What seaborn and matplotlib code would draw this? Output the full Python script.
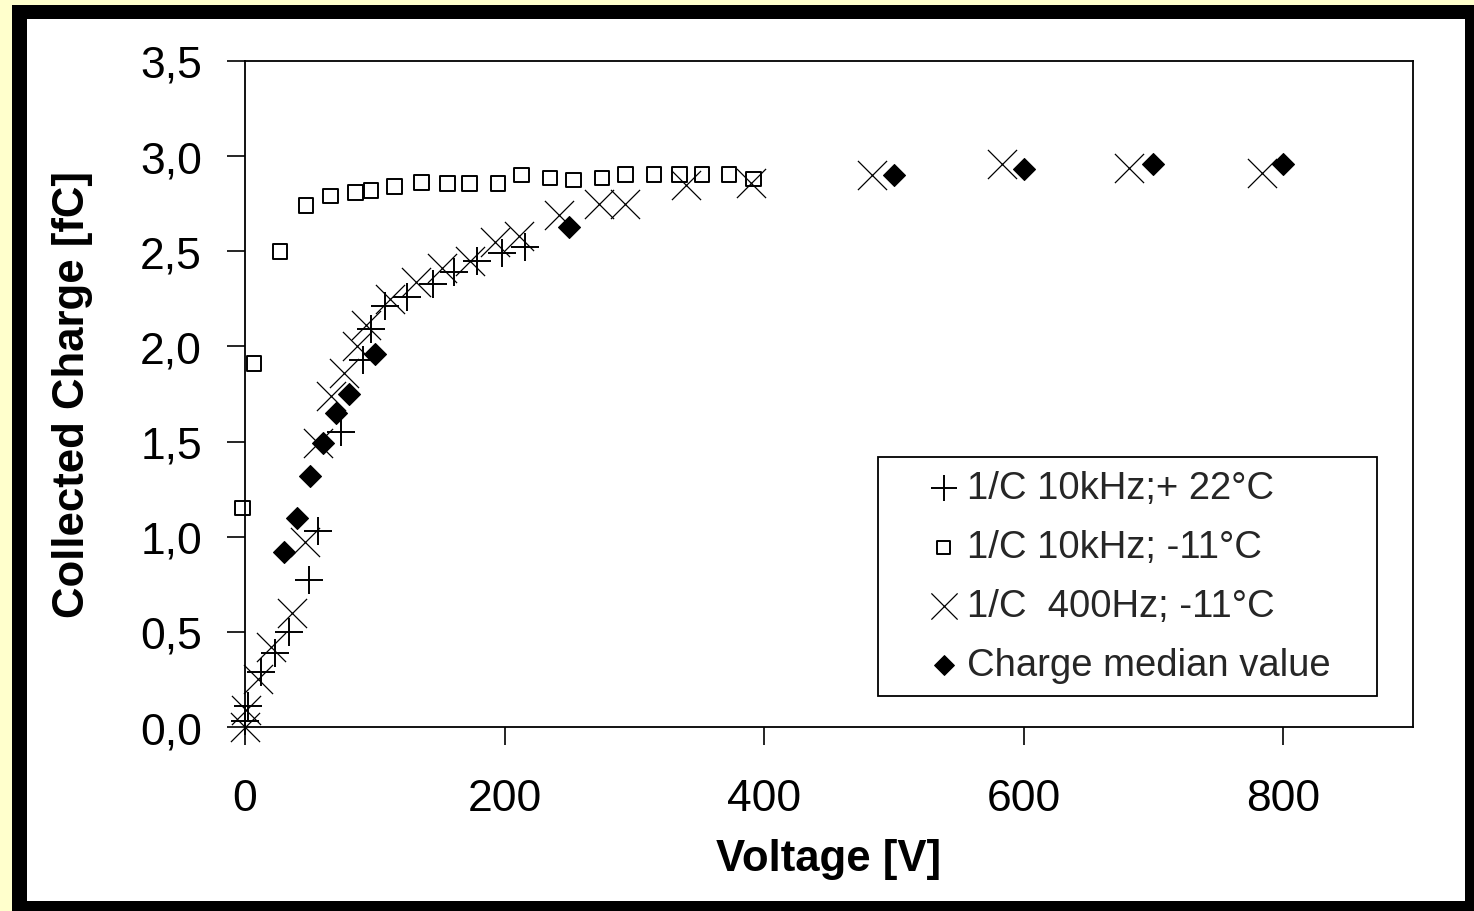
import matplotlib
matplotlib.use("Agg")
import matplotlib.pyplot as plt
from matplotlib.patches import Rectangle
import seaborn as sns
import pandas as pd

# ---- data ----
plus_x = [0, 2, 12, 23, 34, 49, 56, 74, 91, 97, 108, 125, 145, 161, 179, 198, 216]
plus_y = [0.03, 0.11, 0.29, 0.39, 0.50, 0.77, 1.03, 1.55, 1.93, 2.09, 2.21, 2.26, 2.33, 2.39, 2.45, 2.49, 2.52]

sq_x = [-2, 7, 27, 47, 66, 85, 97, 115, 136, 156, 173, 195, 213, 235, 253, 275, 293, 315, 335, 352, 373, 392]
sq_y = [1.15, 1.91, 2.50, 2.74, 2.79, 2.81, 2.82, 2.84, 2.86, 2.855, 2.855, 2.855, 2.90, 2.885, 2.875,
        2.885, 2.905, 2.905, 2.905, 2.905, 2.905, 2.88]

cross_x = [0, 1, 10, 20, 36, 46, 56, 66, 76, 86, 93, 112, 132, 152, 173, 193, 211, 242, 273, 293,
           340, 390, 483, 583, 681, 784]
cross_y = [0.00, 0.09, 0.25, 0.42, 0.60, 0.97, 1.49, 1.74, 1.86, 2.00, 2.11, 2.25, 2.34, 2.41, 2.45,
           2.55, 2.58, 2.69, 2.75, 2.75, 2.85, 2.86, 2.90, 2.96, 2.94, 2.91]

med_x = [30, 40, 50, 60, 70, 80, 100, 250, 500, 600, 700, 800]
med_y = [0.92, 1.10, 1.32, 1.49, 1.65, 1.75, 1.96, 2.63, 2.90, 2.93, 2.96, 2.96]

series_labels = ["1/C 10kHz;+ 22°C", "1/C 10kHz; -11°C", "1/C  400Hz; -11°C", "Charge median value"]

x_ticks = [0, 200, 400, 600, 800]
x_tick_labels = ["0", "200", "400", "600", "800"]
y_ticks = [0.0, 0.5, 1.0, 1.5, 2.0, 2.5, 3.0, 3.5]
y_tick_labels = ["0,0", "0,5", "1,0", "1,5", "2,0", "2,5", "3,0", "3,5"]

x_label = "Voltage [V]"
y_label = "Collected Charge [fC]"

# ---- style ----
sns.set_style("white")
plt.rcParams["font.family"] = ["Liberation Sans", "DejaVu Sans"]

W, H = 1474, 912
fig = plt.figure(figsize=(W / 100, H / 100), dpi=100, facecolor="#FFFFCC")

# black frame and white panel (pixel geometry of the reference), behind the axes
fig.patches.append(Rectangle((12 / W, 0), (W - 12) / W, (H - 6) / H,
                             transform=fig.transFigure, facecolor="black", edgecolor="none", zorder=-10))
fig.patches.append(Rectangle((27 / W, 10 / H), (1465 - 27) / W, (902 - 20) / H,
                             transform=fig.transFigure, facecolor="white", edgecolor="none", zorder=-9))

ax = fig.add_axes([245 / W, 1 - 728 / H, (1413 - 245) / W, (728 - 62) / H])
ax.set_facecolor("white")

df_plus = pd.DataFrame({"V": plus_x, "Q": plus_y})
df_sq = pd.DataFrame({"V": sq_x, "Q": sq_y})
df_cross = pd.DataFrame({"V": cross_x, "Q": cross_y})
df_med = pd.DataFrame({"V": med_x, "Q": med_y})

sns.scatterplot(data=df_plus, x="V", y="Q", ax=ax, marker="+", s=420, color="black",
                linewidth=1.4, label=series_labels[0], clip_on=False, zorder=3)
sns.scatterplot(data=df_sq, x="V", y="Q", ax=ax, marker="s", s=110, facecolor="none",
                edgecolor="black", color="black", linewidth=1.4, label=series_labels[1],
                clip_on=False, zorder=3)
sns.scatterplot(data=df_cross, x="V", y="Q", ax=ax, marker="x", s=440, color="black",
                linewidth=0.9, label=series_labels[2], clip_on=False, zorder=3)
sns.scatterplot(data=df_med, x="V", y="Q", ax=ax, marker="D", s=125, color="black",
                edgecolor="black", linewidth=0.8, label=series_labels[3], clip_on=False, zorder=4)

ax.set_xlim(0, 900)
ax.set_ylim(0, 3.5)
ax.set_xticks(x_ticks)
ax.set_xticklabels(x_tick_labels)
ax.set_yticks(y_ticks)
ax.set_yticklabels(y_tick_labels)

ax.tick_params(axis="both", which="major", direction="out", length=13, width=1.2,
               color="black", labelsize=32, labelcolor="black", left=True, bottom=True)
ax.tick_params(axis="x", pad=24)
ax.tick_params(axis="y", pad=18)

for sp in ax.spines.values():
    sp.set_visible(True)
    sp.set_color("black")
    sp.set_linewidth(1.3)

ax.set_xlabel(x_label, fontsize=31.5, fontweight="bold", color="black")
ax.set_ylabel(y_label, fontsize=31.5, fontweight="bold", color="black")
ax.xaxis.set_label_coords(0.5, -0.1667)
ax.yaxis.set_label_coords(-0.130, 0.5)

leg_h = 239 / 666
leg = ax.legend(loc="upper left",
                bbox_to_anchor=(633 / 1168, 270 / 666 - leg_h, 499 / 1168, leg_h),
                mode="expand", borderaxespad=0, borderpad=0.35, fontsize=27.5,
                handlelength=2.75, handletextpad=-0.76, labelspacing=0.6,
                markerscale=0.9, frameon=True, fancybox=False, framealpha=1,
                edgecolor="black", facecolor="white")
leg.get_frame().set_linewidth(1.3)

fig.savefig("out.png", dpi=100, facecolor=fig.get_facecolor())
